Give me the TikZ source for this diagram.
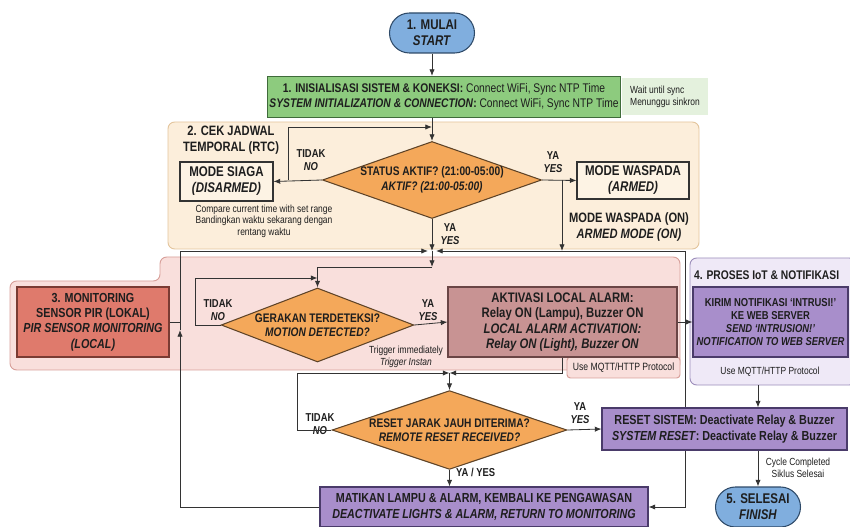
\documentclass[tikz,border=0pt]{standalone}
\usepackage{fontspec}
\setmainfont{Liberation Sans}[FakeStretch=0.82]
\usetikzlibrary{shapes.geometric,arrows.meta}

\definecolor{termfill}{HTML}{80AEDE}
\definecolor{termline}{HTML}{2E4A68}
\definecolor{initfill}{HTML}{8DCB7E}
\definecolor{initline}{HTML}{3F6B3A}
\definecolor{notefill}{HTML}{E4F1DD}
\definecolor{rtcfill}{HTML}{FCEEDB}
\definecolor{rtcline}{HTML}{E3C49C}
\definecolor{modefill}{HTML}{FDF3E4}
\definecolor{decfill}{HTML}{F4A85A}
\definecolor{decline}{HTML}{5E4327}
\definecolor{pirfill}{HTML}{F9DFDC}
\definecolor{pirline}{HTML}{D79E98}
\definecolor{monfill}{HTML}{DF7A6C}
\definecolor{monline}{HTML}{7A3B33}
\definecolor{alarmfill}{HTML}{C89393}
\definecolor{alarmline}{HTML}{6A4545}
\definecolor{iotfill}{HTML}{EFE9F7}
\definecolor{iotline}{HTML}{9C8DBA}
\definecolor{actfill}{HTML}{A88ECB}
\definecolor{actline}{HTML}{4A3B6A}
\definecolor{wire}{HTML}{333333}
\definecolor{ink}{HTML}{1E1E1E}

\tikzset{
  panel/.style={rounded corners=2mm, line width=0.8pt, inner sep=0pt},
  box/.style={draw, line width=0.9pt, inner sep=0pt, align=center, text=ink,
    font=\fontsize{11.2}{13}\selectfont\bfseries},
  terminal/.style={box, rounded corners=6mm, draw=termline, fill=termfill,
    minimum width=25.5mm, minimum height=12mm, font=\fontsize{12}{13.6}\selectfont\bfseries},
  modebox/.style={box, draw=wire, fill=modefill, font=\fontsize{12}{13.6}\selectfont\bfseries},
  actbox/.style={box, draw=actline, fill=actfill},
  decision/.style={diamond, aspect=2.9, draw=decline, fill=decfill, line width=0.9pt,
    inner sep=0pt, align=center, text=ink, font=\fontsize{10.6}{12.4}\selectfont\bfseries},
  lbl/.style={inner sep=0pt, align=center, text=ink, font=\fontsize{9.8}{11}\selectfont\bfseries},
  lblbig/.style={lbl, font=\fontsize{11.6}{13.4}\selectfont\bfseries},
  note/.style={inner sep=0pt, align=center, text=ink, font=\fontsize{8.8}{9.8}\selectfont},
  wireline/.style={draw=wire, line width=0.7pt},
  arr/.style={wireline, -{Latex[length=2mm,width=1.6mm]}}
}

\begin{document}
\begin{tikzpicture}[x=0.3mm, y=-0.3mm]
    \useasboundingbox (0,0) rectangle (850,527);

    \node[panel, draw=rtcline, fill=rtcfill, minimum width=159.3mm, minimum height=38.1mm] (Rtc) at (433.5,185.5) {};
    \draw[panel, draw=pirline, fill=pirfill] (10,281) -- (160,281) -- (160,257) -- (680,257) -- (680,370) -- (10,370) -- cycle;
    \node[panel, draw=iotline, fill=iotfill, minimum width=49.8mm, minimum height=38.1mm] (IotPanel) at (773,321.5) {};
    \node[box, draw=pirline, fill=pirfill, line width=0.8pt, rounded corners=1mm, minimum width=33.9mm, minimum height=6.3mm,
      font=\fontsize{9}{10}\selectfont] (MqttA) at (623.5,367.5) {Use MQTT/HTTP Protocol};

    \node[terminal] (Start) at (432,33) {1. MULAI\\\textit{START}};
    \node[box, draw=initline, fill=initfill, minimum width=105.9mm, minimum height=12.3mm, font=\fontsize{10.7}{12.8}\selectfont\bfseries] (Init) at (444,97)
      {1. INISIALISASI SISTEM \& KONEKSI: {\mdseries Connect WiFi, Sync NTP Time}\\\textit{SYSTEM INITIALIZATION \& CONNECTION}: {\mdseries Connect WiFi, Sync NTP Time}};
    \node[note, fill=notefill, align=left, minimum width=25.8mm, minimum height=11.1mm] (Wait) at (665,97) {Wait until sync\\Menunggu sinkron};

    \node[lblbig] (RtcTitle) at (231,140) {2. CEK JADWAL\\TEMPORAL (RTC)};
    \node[modebox, minimum width=27.9mm, minimum height=11.7mm] (Siaga) at (226.5,181.5) {MODE SIAGA\\\textit{(DISARMED)}};
    \node[decision, minimum width=65.1mm, minimum height=23.1mm] (Aktif) at (432,180) {STATUS AKTIF? (21:00-05:00)\\\textit{AKTIF? (21:00-05:00)}};
    \node[modebox, minimum width=33.6mm, minimum height=11.1mm] (Waspada) at (633,180.5) {MODE WASPADA\\\textit{(ARMED)}};
    \node[lbl] (NoA) at (311,160) {TIDAK\\\textit{NO}};
    \node[lbl] (YesA) at (553,162) {YA\\\textit{YES}};
    \node[lbl] (YesB) at (450,234) {YA\\\textit{YES}};
    \node[lblbig] (OnLbl) at (629,227) {MODE WASPADA (ON)\\\textit{ARMED MODE (ON)}};
    \node[note] (Compare) at (264,221) {Compare current time with set range\\Bandingkan waktu sekarang dengan\\rentang waktu};

    \node[box, draw=monline, fill=monfill, minimum width=45.6mm, minimum height=21mm] (Monitor) at (93,322)
      {3. MONITORING\\SENSOR PIR (LOKAL)\\\textit{PIR SENSOR MONITORING}\\\textit{(LOCAL)}};
    \node[decision, minimum width=56.7mm, minimum height=22.2mm] (Motion) at (317.5,325) {GERAKAN TERDETEKSI?\\\textit{MOTION DETECTED?}};
    \node[box, draw=alarmline, fill=alarmfill, minimum width=68.7mm, minimum height=21mm, font=\fontsize{11.8}{13}\selectfont\bfseries] (Alarm) at (562.5,322)
      {AKTIVASI LOCAL ALARM:\\Relay ON (Lampu), Buzzer ON\\\textit{LOCAL ALARM ACTIVATION:}\\\textit{Relay ON (Light), Buzzer ON}};
    \node[lbl] (NoB) at (218,310) {TIDAK\\\textit{NO}};
    \node[lbl] (YesC) at (428,310) {YA\\\textit{YES}};
    \node[note] (Trigger) at (406,357) {Trigger immediately\\\textit{Trigger Instan}};

    \node[lbl, anchor=west, font=\fontsize{10.7}{12}\selectfont\bfseries] (IotTitle) at (694,275) {4. PROSES IoT \& NOTIFIKASI};
    \node[actbox, minimum width=46.5mm, minimum height=21mm, font=\fontsize{9.8}{11.2}\selectfont\bfseries] (Iot) at (770.5,322)
      {KIRIM NOTIFIKASI `INTRUSI!'\\KE WEB SERVER\\\textit{SEND `INTRUSION!'}\\\textit{NOTIFICATION TO WEB SERVER}};
    \node[note] (MqttB) at (770,372) {Use MQTT/HTTP Protocol};

    \node[decision, minimum width=70.5mm, minimum height=22.5mm] (Remote) at (449.5,430) {RESET JARAK JAUH DITERIMA?\\\textit{REMOTE RESET RECEIVED?}};
    \node[lbl] (NoC) at (320,424) {TIDAK\\\textit{NO}};
    \node[lbl] (YesD) at (580,413) {YA\\\textit{YES}};
    \node[lbl, anchor=west] (YesE) at (456,472) {YA / YES};
    \node[actbox, minimum width=98.4mm, minimum height=12mm] (Matikan) at (484,507)
      {MATIKAN LAMPU \& ALARM, KEMBALI KE PENGAWASAN\\\textit{DEACTIVATE LIGHTS \& ALARM, RETURN TO MONITORING}};

    \coordinate (JoinA) at (432,251);
    \coordinate (RightA) at (685,251);
    \draw[arr] (RightA) |- (Matikan.east);

    \node[actbox, minimum width=73.5mm, minimum height=12.6mm] (Reset) at (724.5,429)
      {RESET SISTEM: Deactivate Relay \& Buzzer\\\textit{SYSTEM RESET}: Deactivate Relay \& Buzzer};
    \node[terminal] (Finish) at (758,507) {5. SELESAI\\\textit{FINISH}};
    \node[note] (Cycle) at (798,468) {Cycle Completed\\Siklus Selesai};

    \coordinate (LoopA) at (288,127);
    \coordinate (ArmA) at (562,180);
    \coordinate (LeftA) at (180,330);
    \coordinate (JoinB) at (432,267);
    \coordinate (LoopB) at (195,278);
    \coordinate (JoinC) at (449.5,373);
    \coordinate (LoopC) at (297,373);

    \draw[arr] (Start) -- (Start |- Init.north);
    \draw[arr] (Aktif.north |- Init.south) -- (Aktif.north);
    \draw[arr] (Aktif.west) -- (Siaga.east);
    \draw[arr] (Aktif.west -| LoopA) -- (LoopA) -- (Aktif.north |- LoopA);
    \draw[arr] (Aktif.east) -- (Waspada.west);
    \draw[arr] (ArmA) -- (ArmA |- JoinA);
    \draw[arr] (Aktif.south) -- (JoinA);
    \draw[arr] (RightA) -- ([xshift=1.2mm]JoinA);
    \draw[arr] (Matikan.west) -| (LeftA);
    \draw[arr] (LeftA) |- ([xshift=-1.2mm]JoinA);
    \draw[wireline] (Monitor.east) -- (Monitor.east -| LeftA);
    \draw[arr] (JoinA) -- (JoinB);
    \draw[arr] (JoinB) -| (Motion.north);
    \draw[arr] (Motion.west) -| (LoopB) -- (Motion.north |- LoopB);
    \draw[arr] (Motion.east) -- (Alarm.west);
    \draw[arr] (Alarm.east) -- (Iot.west);
    \draw[arr] (Alarm.south) |- (JoinC);
    \draw[arr] (Remote.west) -| (LoopC) -- (JoinC);
    \draw[arr] (JoinC) -- (Remote.north);
    \draw[arr] (Remote.east) -- (Reset.west);
    \draw[arr] (Remote.south) -- (Remote.south |- Matikan.north);
    \draw[arr] (IotPanel.south -| Finish) -- (Reset.north -| Finish);
    \draw[arr] (Reset.south -| Finish) -- (Finish.north);
\end{tikzpicture}
\end{document}
